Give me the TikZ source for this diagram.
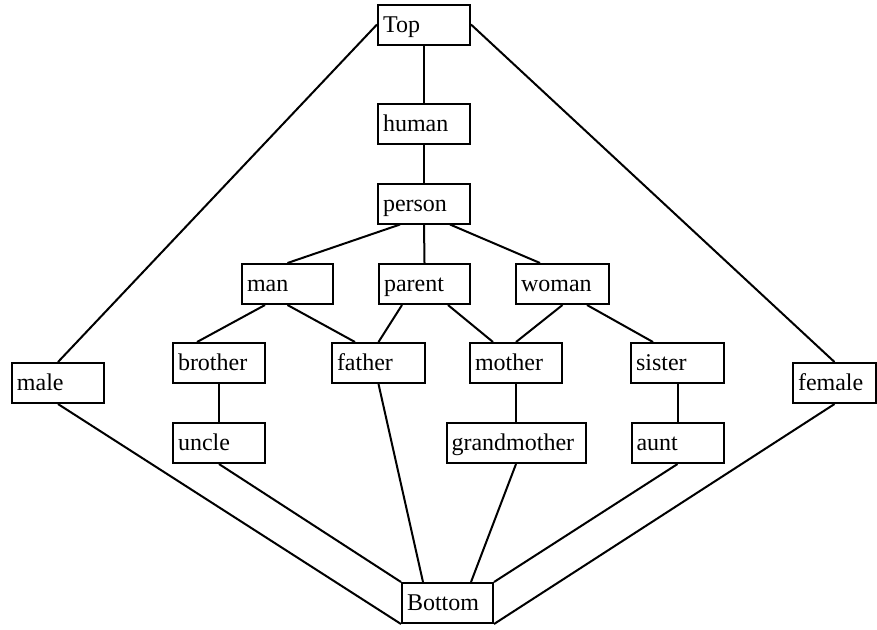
\documentclass[tikz,border=0pt]{standalone}
\usepackage{fontspec}
\setmainfont{Liberation Serif}
\usetikzlibrary{calc}
\tikzset{
  box/.style={draw, line width=1pt, minimum height=20pt, inner xsep=2.5pt, inner ysep=0pt,
    align=left, text height=7.6pt, text depth=0pt, font=\fontsize{12}{14}\selectfont, text width=#1},
  box/.default=41pt,
  edge/.style={line width=1pt}
}
\begin{document}
\begin{tikzpicture}[x=0.5pt,y=-0.5pt]
\useasboundingbox (0,0) rectangle (877,629);
\node[box] (top) at (424,24.5) {Top};
\node[box] (human) at (424,124) {human};
\node[box] (person) at (424,203.5) {person};
\node[box=40.5pt] (man) at (287.5,284) {man};
\node[box=40.5pt] (parent) at (424.5,284) {parent};
\node[box=41.5pt] (woman) at (562.5,284) {woman};
\node[box] (brother) at (219,363) {brother};
\node[box=41.5pt] (father) at (378.5,363) {father};
\node[box] (mother) at (516,363) {mother};
\node[box=41.5pt] (sister) at (677.5,363) {sister};
\node[box] (male) at (58,383) {male};
\node[box=36.5pt] (female) at (834.5,383) {female};
\node[box] (uncle) at (219,443) {uncle};
\node[box=64.5pt] (grandmother) at (516,443) {grandmother};
\node[box] (aunt) at (677.5,443) {aunt};
\node[box=40.5pt] (bottom) at (447.5,603) {Bottom};

\draw[edge] (top.south) -- (human.north);
\draw[edge] (human.south) -- (person.north);
\draw[edge] (top.west) -- (male.north);
\draw[edge] (top.east) -- (female.north);
\draw[edge] ($(person.south)+(-24,0)$) -- (man.north);
\draw[edge] (person.south) -- (parent.north);
\draw[edge] ($(person.south)+(26,0)$) -- ($(woman.north)+(-22.5,0)$);
\draw[edge] ($(man.south)+(-22.5,0)$) -- ($(brother.north)+(-22,0)$);
\draw[edge] (man.south) -- ($(father.north)+(-23.5,0)$);
\draw[edge] ($(parent.south)+(-22.5,0)$) -- (father.north);
\draw[edge] ($(parent.south)+(23.5,0)$) -- ($(mother.north)+(-23,0)$);
\draw[edge] (woman.south) -- (mother.north);
\draw[edge] ($(woman.south)+(24.5,0)$) -- ($(sister.north)+(-24.5,0)$);
\draw[edge] (brother.south) -- (uncle.north);
\draw[edge] (mother.south) -- (grandmother.north);
\draw[edge] (sister.south) -- (aunt.north);
\draw[edge] (male.south) -- (bottom.south west);
\draw[edge] (uncle.south) -- (bottom.north west);
\draw[edge] (father.south) -- ($(bottom.north)+(-24.5,0)$);
\draw[edge] (grandmother.south) -- ($(bottom.north)+(23.5,0)$);
\draw[edge] (aunt.south) -- (bottom.north east);
\draw[edge] (female.south) -- (bottom.south east);
\end{tikzpicture}
\end{document}
